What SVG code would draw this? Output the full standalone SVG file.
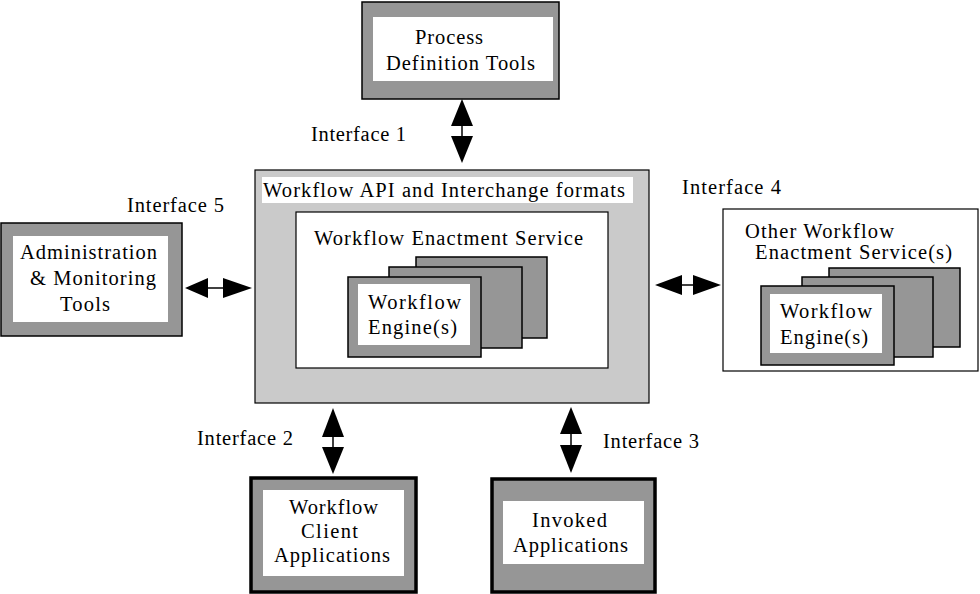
<svg xmlns="http://www.w3.org/2000/svg" width="980" height="594" viewBox="0 0 980 594">
<defs>
<style>
text{font-family:"Liberation Serif","Times New Roman",serif;font-size:20.5px;fill:#000}
.dk{fill:#969696;stroke:#000;stroke-width:1.5}
.dkb{fill:#969696;stroke:#000;stroke-width:3.5}
.wh{fill:#fff;stroke:none}
.whb{fill:#fff;stroke:#000;stroke-width:1.2}
.lt{fill:#cacaca;stroke:#000;stroke-width:1.2}
.ln{stroke:#000;stroke-width:1.5;fill:none}
.hd{fill:#000}
</style>
</defs>
<rect width="980" height="594" fill="#fff"/>

<g id="process-definition">
<rect class="dk" x="362" y="2" width="197" height="97"/>
<rect class="wh" x="373" y="17" width="180" height="64"/>
<text x="415" y="44" textLength="68" lengthAdjust="spacing">Process</text>
<text x="386" y="70" textLength="149" lengthAdjust="spacing">Definition Tools</text>
</g>

<g id="main">
<rect class="lt" x="255" y="170" width="394" height="233"/>
<rect class="wh" x="262" y="177" width="371" height="26"/>
<text x="263" y="197" textLength="362" lengthAdjust="spacing">Workflow API and Interchange formats</text>
<rect class="whb" x="296" y="212" width="312" height="156"/>
<text x="314" y="245" textLength="269" lengthAdjust="spacing">Workflow Enactment Service</text>
<rect class="dk" x="416" y="257" width="131" height="81"/>
<rect class="dk" x="389" y="267" width="133" height="81"/>
<rect class="dk" x="348" y="277" width="133" height="80"/>
<rect class="wh" x="358" y="284" width="112" height="61"/>
<text x="368" y="309" textLength="93" lengthAdjust="spacing">Workflow</text>
<text x="368" y="334" textLength="89" lengthAdjust="spacing">Engine(s)</text>
</g>

<g id="admin">
<rect class="dk" x="1" y="223" width="181" height="113"/>
<rect class="wh" x="13" y="236" width="155" height="86"/>
<text x="20" y="259" textLength="137" lengthAdjust="spacing">Administration</text>
<text x="30" y="285" textLength="126" lengthAdjust="spacing">&amp; Monitoring</text>
<text x="60" y="311" textLength="50" lengthAdjust="spacing">Tools</text>
</g>

<g id="other-enactment">
<rect class="whb" x="723" y="209" width="255" height="162"/>
<text x="745" y="238" textLength="149" lengthAdjust="spacing">Other Workflow</text>
<text x="755" y="259" textLength="197" lengthAdjust="spacing">Enactment Service(s)</text>
<rect class="dk" x="829" y="268" width="131" height="79"/>
<rect class="dk" x="802" y="277" width="131" height="80"/>
<rect class="dk" x="761" y="286" width="133" height="79"/>
<rect class="wh" x="770" y="294" width="112" height="59"/>
<text x="780" y="318" textLength="92" lengthAdjust="spacing">Workflow</text>
<text x="780" y="344" textLength="88" lengthAdjust="spacing">Engine(s)</text>
</g>

<g id="client-apps">
<rect class="dkb" x="251" y="478" width="165" height="114"/>
<rect class="wh" x="263" y="490" width="141" height="86"/>
<text x="289" y="514" textLength="89" lengthAdjust="spacing">Workflow</text>
<text x="301" y="538" textLength="57" lengthAdjust="spacing">Client</text>
<text x="274" y="562" textLength="116" lengthAdjust="spacing">Applications</text>
</g>

<g id="invoked-apps">
<rect class="dkb" x="492" y="479" width="163" height="113"/>
<rect class="wh" x="503" y="501" width="141" height="63"/>
<text x="532" y="527" textLength="75" lengthAdjust="spacing">Invoked</text>
<text x="513" y="552" textLength="115" lengthAdjust="spacing">Applications</text>
</g>

<g id="labels">
<text x="311" y="141" textLength="95" lengthAdjust="spacing">Interface 1</text>
<text x="127" y="212" textLength="97" lengthAdjust="spacing">Interface 5</text>
<text x="682" y="194" textLength="99" lengthAdjust="spacing">Interface 4</text>
<text x="197" y="445" textLength="96" lengthAdjust="spacing">Interface 2</text>
<text x="603" y="448" textLength="96" lengthAdjust="spacing">Interface 3</text>
</g>

<g id="connectors">
<line class="ln" x1="462" y1="120" x2="462" y2="140"/>
<polygon class="hd" points="462,99 473,126 451,126"/>
<polygon class="hd" points="462,163 473,136 451,136"/>

<line class="ln" x1="200" y1="288" x2="230" y2="288"/>
<polygon class="hd" points="185,288 208,278 208,298"/>
<polygon class="hd" points="252,288 223,278 223,298"/>

<line class="ln" x1="675" y1="285" x2="700" y2="285"/>
<polygon class="hd" points="655,285 682,275 682,295"/>
<polygon class="hd" points="721,285 693,275 693,295"/>

<line class="ln" x1="333" y1="430" x2="333" y2="452"/>
<polygon class="hd" points="333,408 344,437 322,437"/>
<polygon class="hd" points="333,474 344,447 322,447"/>

<line class="ln" x1="571" y1="428" x2="571" y2="450"/>
<polygon class="hd" points="571,407 582,434 560,434"/>
<polygon class="hd" points="571,473 582,445 560,445"/>
</g>
</svg>
